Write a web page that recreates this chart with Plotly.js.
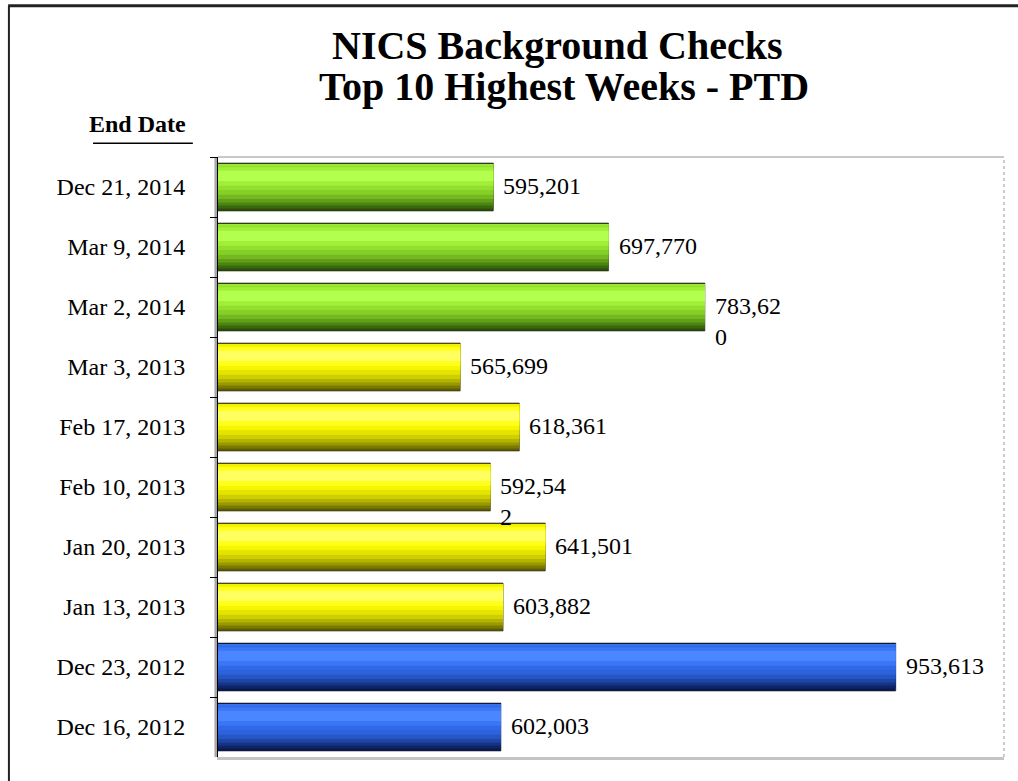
<!DOCTYPE html>
<html>
<head>
<meta charset="utf-8">
<script src="https://cdn.plot.ly/plotly-3.0.1.min.js"></script>
<style>
  html, body { margin: 0; padding: 0; background: #ffffff; }
  #chart { width: 1018px; height: 781px; }
</style>
</head>
<body>
<div id="chart"></div>
<script>
// ---- data (top to bottom as displayed) ----
const endDates = ["Dec 21, 2014", "Mar 9, 2014", "Mar 2, 2014", "Mar 3, 2013", "Feb 17, 2013",
                  "Feb 10, 2013", "Jan 20, 2013", "Jan 13, 2013", "Dec 23, 2012", "Dec 16, 2012"];
const checks = [595201, 697770, 783620, 565699, 618361, 592542, 641501, 603882, 953613, 602003];
const labelText = ["595,201", "697,770", "783,62<br>0", "565,699", "618,361",
                   "592,54<br>2", "641,501", "603,882", "953,613", "602,003"];
const yearGroup = ["2014", "2014", "2014", "2013", "2013", "2013", "2013", "2013", "2012", "2012"];
const titleLines = ["NICS Background Checks", "Top 10 Highest Weeks - PTD"];
const yHeader = "End Date";

// ---- styling ----
const palette = {
  "2014": { ramp: ["#2c4f08", "#3a680c", "#4c8412", "#619f19", "#75b920", "#86cf27", "#92df2d"],
            soft: "#a2ef3a", hi: "#b4ff4e", rim: "#9ce836" },
  "2013": { ramp: ["#5e5e00", "#7a7a00", "#989800", "#b4b400", "#cece00", "#e4e400", "#f6f600"],
            soft: "#ffff1c", hi: "#ffff60", rim: "#f0f000" },
  "2012": { ramp: ["#081850", "#0e2468", "#163486", "#1e46a6", "#2656c4", "#2c62dc", "#3068ea"],
            soft: "#3a76f6", hi: "#4a86ff", rim: "#3a70e8" }
};
const serif = "'Liberation Serif', 'Times New Roman', serif";
const pick = f => yearGroup.map(g => f(palette[g]));

function layer(colors, top, bottom, extra) {
  return Object.assign({
    type: "bar", orientation: "h",
    y: endDates, x: checks,
    width: bottom - top, offset: top,
    marker: { color: colors, line: { width: 0 } },
    hoverinfo: "skip", showlegend: false
  }, extra || {});
}

const traces = [];
// base with outline
traces.push(layer(pick(p => p.ramp[0]), -0.4, 0.4,
  { marker: { color: pick(p => p.ramp[0]), line: { color: "rgba(30,30,30,0.55)", width: 1 } } }));
// bottom shading ramp
const bottoms = [0.36, 0.31, 0.26, 0.2, 0.13, 0.05];
bottoms.forEach((b, i) => traces.push(layer(pick(p => p.ramp[i + 1]), -0.385, b)));
// top rim and highlight
traces.push(layer(pick(p => p.soft), -0.33, -0.02));
traces.push(layer(pick(p => p.hi), -0.27, -0.1));
traces.push(layer(pick(p => p.rim), -0.385, -0.355));

const layout = {
  width: 1018, height: 781,
  margin: { l: 218, r: 14, t: 157, b: 24 },
  paper_bgcolor: "#ffffff", plot_bgcolor: "#ffffff",
  barmode: "overlay",
  xaxis: {
    range: [350000, 1050000],
    showticklabels: false, showgrid: false, zeroline: false,
    showline: true, linecolor: "#c4c4c4", linewidth: 3,
    ticks: "", fixedrange: true
  },
  yaxis: {
    type: "category", autorange: "reversed",
    showgrid: false, zeroline: false,
    showline: true, linecolor: "#000000", linewidth: 1,
    ticks: "outside", ticklen: 7, tickcolor: "#000000", tickson: "boundaries",
    tickfont: { family: serif, size: 24, color: "#000000" },
    ticklabelstandoff: 27,
    fixedrange: true
  },
  shapes: [
    { type: "rect", xref: "paper", yref: "paper", x0: -0.0045, x1: 0, y0: 0, y1: 1,
      fillcolor: "#a8a8a8", line: { width: 0 }, layer: "below" },
    { type: "line", xref: "paper", yref: "paper", x0: 0, x1: 1, y0: 1, y1: 1,
      line: { color: "#c8c8c8", width: 2 } },
    { type: "line", xref: "paper", yref: "paper", x0: 1, x1: 1, y0: 0, y1: 1,
      line: { color: "#9a9a9a", width: 1, dash: "dot" } },
    { type: "line", xref: "paper", yref: "paper", x0: -0.266, x1: -0.266, y0: -0.05, y1: 1.252,
      line: { color: "#222222", width: 2 } },
    { type: "line", xref: "paper", yref: "paper", x0: -0.267, x1: 1.02, y0: 1.252, y1: 1.252,
      line: { color: "#222222", width: 3 } },
    { type: "line", xref: "paper", yref: "paper", x0: -0.159, x1: -0.032, y0: 1.023, y1: 1.023,
      line: { color: "#000000", width: 1.5 } }
  ],
  annotations: [
    { text: "<b>" + titleLines[0] + "</b>", xref: "paper", yref: "paper", x: 0.4313, y: 1.185,
      xanchor: "center", yanchor: "middle", showarrow: false,
      font: { family: serif, size: 40, color: "#000000" } },
    { text: "<b>" + titleLines[1] + "</b>", xref: "paper", yref: "paper", x: 0.4402, y: 1.118,
      xanchor: "center", yanchor: "middle", showarrow: false,
      font: { family: serif, size: 40, color: "#000000" } },
    { text: "<b>" + yHeader + "</b>", xref: "paper", yref: "paper", x: -0.038, y: 1.055,
      xanchor: "right", yanchor: "middle", showarrow: false,
      font: { family: serif, size: 24, color: "#000000" } }
  ].concat(checks.map((v, i) => ({
    x: v, y: endDates[i], xref: "x", yref: "y",
    text: labelText[i], showarrow: false,
    xanchor: "left", yanchor: "top", align: "left",
    xshift: 8, yshift: 16,
    font: { family: serif, size: 24, color: "#000000" }
  })))
};

Plotly.newPlot("chart", traces, layout, { displayModeBar: false, staticPlot: true });
</script>
</body>
</html>
